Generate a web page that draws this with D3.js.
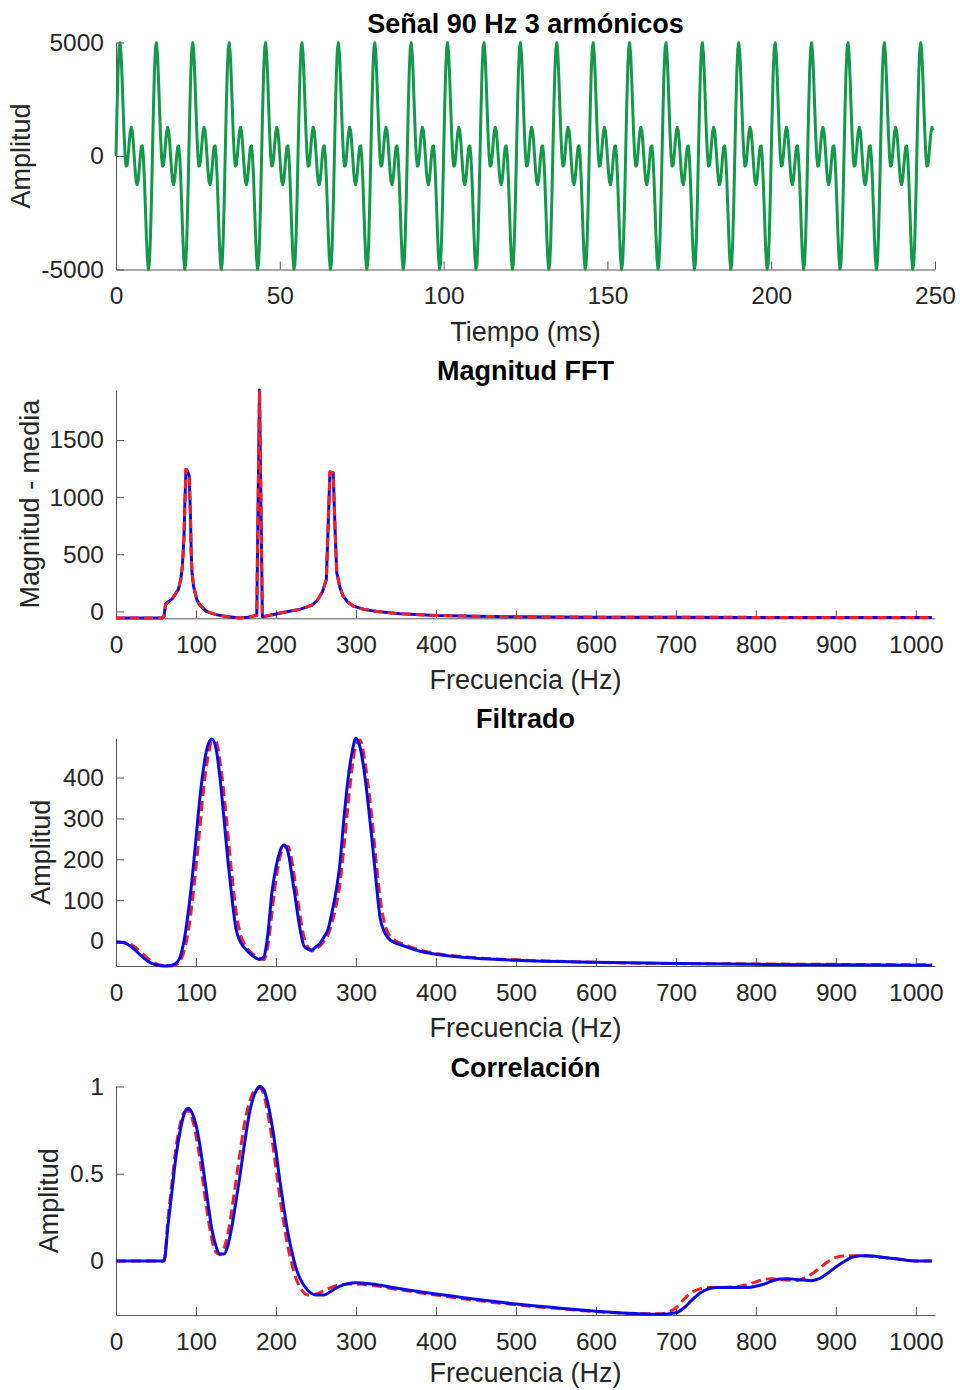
<!DOCTYPE html>
<html>
<head>
<meta charset="utf-8">
<script src="https://cdn.jsdelivr.net/npm/d3@7"></script>
<style>
  body { margin: 0; background: #fff; }
</style>
</head>
<body>
<svg id="fig" width="960" height="1390"></svg>
<script>
// one period of the 90 Hz signal, 36 samples (it repeats every 1/90 s)
var period = [0, 2031, 3702, 4732, 4987, 4502, 3464, 2165, 922, 0, -446, -406,
  0, 562, 1048, 1268, 1130, 663, 0, -663, -1130, -1268, -1048, -562,
  0, 406, 446, 0, -922, -2165, -3464, -4502, -4987, -4732, -3702, -2031];
var periodMs = 1000 / 90;

// FFT magnitude minus mean (both traces lie on top of each other)
var fftFreq = [0, 58, 60, 62, 66, 70, 74, 78, 81, 83,
  85, 86, 87.5, 89.5, 91.5, 93, 94, 95, 97, 101,
  105, 113, 125, 138, 155, 165, 176, 179.4, 183, 197,
  215, 230, 245, 251, 258, 263, 265.5, 267.5, 271.5, 274,
  276, 280, 284, 290, 297, 310, 326, 355, 400, 450,
  500, 600, 700, 800, 900, 1020];
var fftMag = [-58, -58, -40, 62, 88, 108, 150, 193, 280, 397,
  650, 924, 1245, 1225, 1190, 866, 520, 342, 220, 105,
  55, 0, -28, -45, -58, -50, -35, 1938, -47, -26,
  0, 18, 55, 90, 170, 280, 800, 1220, 1215, 700,
  342, 210, 134, 80, 46, 18, 0, -20, -35, -42,
  -47, -50, -51, -52, -52, -52];

// filtered output
var filtFreq = [0, 10, 20, 30, 40, 50, 60, 70, 75, 80, 85, 90, 95, 100,
  105, 110, 115, 120, 125, 130, 135, 140, 145, 150,
  155, 160, 170, 180, 185, 190, 195, 200,
  205, 210, 215, 220, 225, 230, 235, 240, 245, 250,
  255, 260, 265, 270, 275, 280, 285, 290, 295, 300,
  305, 310, 315, 320, 325, 330, 335, 340,
  350, 360, 380, 400, 450, 500, 600, 700, 800, 900, 1020];
var filtBlue = [-2, -4, -15, -33, -50, -58, -61, -59, -54, -40, 0, 65, 149, 250,
  352, 430, 480, 494, 472, 400, 300, 195, 105, 30,
  0, -15, -35, -45, -38, 20, 120, 180,
  220, 235, 218, 160, 95, 30, -12, -20, -22, -14,
  -6, 10, 28, 70, 120, 190, 300, 394, 460, 496,
  475, 420, 340, 250, 150, 59, 25, 8,
  -5, -12, -25, -32, -42, -47, -52, -55, -57, -58, -59];
var filtRed = [-2, -3, -10, -25, -43, -55, -60, -61, -58, -50, -25, 20, 90, 180,
  280, 380, 450, 488, 488, 440, 360, 260, 160, 75,
  20, -5, -30, -42, -45, -10, 70, 150,
  205, 230, 232, 195, 130, 65, 10, -15, -24, -20,
  -12, 0, 15, 45, 85, 140, 230, 330, 420, 480,
  492, 455, 385, 300, 200, 110, 50, 20,
  0, -8, -22, -30, -41, -46, -52, -55, -56, -57, -58];

// correlation
var corrFreq = [0, 60, 65, 70, 75, 80, 85, 90, 95, 100,
  105, 110, 115, 120, 125, 130, 135, 140, 145, 150,
  155, 160, 165, 170, 175, 180, 185, 190, 195, 200,
  205, 210, 215, 220, 225, 230, 240, 250, 260, 270,
  280, 290, 300, 320, 350, 400, 450, 500, 550, 600,
  650, 680, 700, 710, 720, 730, 740, 750, 760, 770,
  780, 790, 800, 810, 820, 830, 840, 850, 860, 870,
  880, 890, 900, 910, 920, 930, 940, 960, 980, 1000, 1020];
var corrBlue = [0, 0, 0.2, 0.4, 0.6, 0.74, 0.84, 0.875, 0.85, 0.78,
  0.66, 0.5, 0.33, 0.18, 0.085, 0.04, 0.04, 0.09, 0.2, 0.34,
  0.49, 0.65, 0.8, 0.91, 0.975, 1.0, 0.98, 0.9, 0.78, 0.63,
  0.455, 0.3, 0.16, 0.05, -0.04, -0.1, -0.17, -0.195, -0.195, -0.17,
  -0.145, -0.13, -0.125, -0.132, -0.155, -0.19, -0.22, -0.247, -0.268, -0.288,
  -0.302, -0.306, -0.297, -0.27, -0.225, -0.185, -0.162, -0.153, -0.152, -0.152,
  -0.152, -0.152, -0.145, -0.133, -0.115, -0.103, -0.102, -0.106, -0.11, -0.113,
  -0.1, -0.07, -0.035, -0.005, 0.02, 0.03, 0.03, 0.02, 0.01, 0, 0];
var corrRed = [0, 0, 0.24, 0.45, 0.65, 0.78, 0.85, 0.86, 0.82, 0.72,
  0.58, 0.41, 0.25, 0.12, 0.05, 0.035, 0.07, 0.16, 0.3, 0.46,
  0.62, 0.77, 0.88, 0.95, 0.99, 0.99, 0.95, 0.84, 0.7, 0.53,
  0.36, 0.21, 0.08, -0.02, -0.1, -0.15, -0.195, -0.19, -0.17, -0.15,
  -0.138, -0.132, -0.132, -0.14, -0.162, -0.196, -0.226, -0.252, -0.272, -0.29,
  -0.302, -0.303, -0.27, -0.22, -0.18, -0.16, -0.153, -0.152, -0.152, -0.15,
  -0.145, -0.135, -0.12, -0.106, -0.102, -0.106, -0.11, -0.112, -0.1, -0.075,
  -0.04, -0.005, 0.02, 0.03, 0.03, 0.03, 0.028, 0.02, 0.01, 0, 0];

// tick labels
var timeTicks = [0, 50, 100, 150, 200, 250];
var freqTicks = [0, 100, 200, 300, 400, 500, 600, 700, 800, 900, 1000];
var sigTicks = [-5000, 0, 5000];
var fftTicks = [0, 500, 1000, 1500];
var filtTicks = [0, 100, 200, 300, 400];
var corrTicks = [0, 0.5, 1];

var FONT = '"Liberation Sans", Arial, sans-serif';
var GREEN = '#14984a', BLUE = '#0a0ae8', RED = '#f21f24';
var svg = d3.select('#fig');

// lay the signal period end to end over the 250 ms window
var sigT = [], sigV = [];
for (var i = 0; i * periodMs / period.length < 249.5; i++) {
  sigT.push(i * periodMs / period.length);
  sigV.push(period[i % period.length]);
}

// draw one MATLAB-like axes box (left + bottom only, ticks inside)
function makePanel(top, bottom, xDom, yDom, xTicks, yTicks) {
  var x = d3.scaleLinear().domain(xDom).range([116, 935]);
  var y = d3.scaleLinear().domain(yDom).range([bottom, top]);
  var xa = svg.append('g').attr('transform', 'translate(0,' + bottom + ')')
    .call(d3.axisBottom(x).tickValues(xTicks).tickSizeInner(-8).tickSizeOuter(0)
      .tickPadding(17.5).tickFormat(String));
  var ya = svg.append('g').attr('transform', 'translate(116,0)')
    .call(d3.axisLeft(y).tickValues(yTicks).tickSizeInner(-8).tickSizeOuter(0)
      .tickPadding(12).tickFormat(String));
  [xa, ya].forEach(function (a) {
    a.attr('font-size', 24.5).attr('font-family', FONT);
    a.selectAll('path, line').attr('stroke', '#555').attr('stroke-width', 1);
    a.selectAll('text').attr('fill', '#262626');
  });
  return { x: x, y: y, top: top, bottom: bottom };
}

function labels(p, title, xl, yl, ylx, xlOff) {
  svg.append('text').attr('x', 525.5).attr('y', p.top - 10)
    .attr('text-anchor', 'middle').attr('font-family', FONT).attr('font-weight', 'bold')
    .attr('font-size', 27).attr('fill', '#000').text(title);
  svg.append('text').attr('x', 525.5).attr('y', p.bottom + (xlOff || 71))
    .attr('text-anchor', 'middle').attr('font-family', FONT)
    .attr('font-size', 27).attr('fill', '#262626').text(xl);
  svg.append('text')
    .attr('transform', 'translate(' + ylx + ',' + (p.top + p.bottom) / 2 + ') rotate(-90)')
    .attr('text-anchor', 'middle').attr('dy', '0.3em').attr('font-family', FONT)
    .attr('font-size', 27).attr('fill', '#262626').text(yl);
}

function drawLine(p, xs, ys, color, dash, curve) {
  var line = d3.line()
    .x(function (d, i) { return p.x(xs[i]); })
    .y(function (d) { return p.y(d); })
    .curve(curve || d3.curveLinear);
  svg.append('path').datum(ys).attr('d', line)
    .attr('fill', 'none').attr('stroke', color).attr('stroke-width', 3)
    .attr('stroke-linejoin', 'round')
    .attr('stroke-dasharray', dash || null);
}

// 1 - signal
var p1 = makePanel(42.5, 269.5, [0, 250], [-5000, 5000], timeTicks, sigTicks);
drawLine(p1, sigT, sigV, GREEN);
labels(p1, 'Señal 90 Hz 3 armónicos', 'Tiempo (ms)', 'Amplitud', 22);

// 2 - FFT
var p2 = makePanel(390, 618.3, [0, 1024], [-60, 1938], freqTicks, fftTicks);
drawLine(p2, fftFreq, fftMag, BLUE);
drawLine(p2, fftFreq, fftMag, RED, '9,5');
labels(p2, 'Magnitud FFT', 'Frecuencia (Hz)', 'Magnitud - media', 31);

// 3 - filtered
var p3 = makePanel(738.3, 966, [0, 1024], [-61, 496], freqTicks, filtTicks);
drawLine(p3, filtFreq, filtRed, RED, '10,5', d3.curveMonotoneX);
drawLine(p3, filtFreq, filtBlue, BLUE, null, d3.curveMonotoneX);
labels(p3, 'Filtrado', 'Frecuencia (Hz)', 'Amplitud', 42);

// 4 - correlation
var p4 = makePanel(1086.5, 1315, [0, 1024], [-0.31, 1], freqTicks, corrTicks);
drawLine(p4, corrFreq, corrRed, RED, '10,5', d3.curveMonotoneX);
drawLine(p4, corrFreq, corrBlue, BLUE, null, d3.curveMonotoneX);
labels(p4, 'Correlación', 'Frecuencia (Hz)', 'Amplitud', 50, 67);
</script>
</body>
</html>
